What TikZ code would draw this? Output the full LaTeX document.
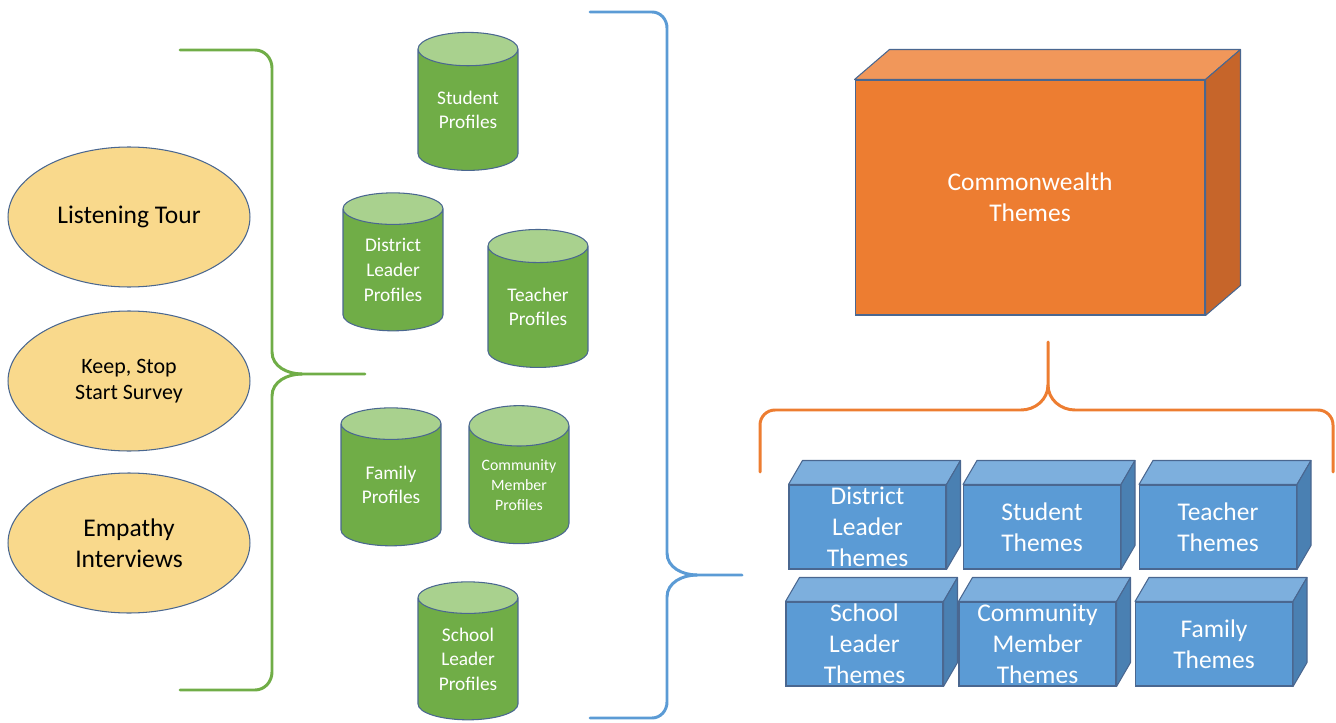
\documentclass[tikz,border=0pt]{standalone}
\usepackage{fontspec}
\setmainfont{Carlito}
\usetikzlibrary{shapes.geometric}

\definecolor{edgeblue}{HTML}{4A6790}
\definecolor{srcyellow}{HTML}{F9D98C}
\definecolor{profgreen}{HTML}{70AD47}
\definecolor{proftop}{HTML}{A9D18E}
\definecolor{themeblue}{HTML}{5B9BD5}
\definecolor{themetopblue}{HTML}{7DAFDD}
\definecolor{themesideblue}{HTML}{4A80B2}
\definecolor{cworange}{HTML}{ED7D31}
\definecolor{cwtop}{HTML}{F1975A}
\definecolor{cwside}{HTML}{C6652A}

\begin{document}
\begin{tikzpicture}[x=0.02cm, y=0.02cm,
  source/.style={ellipse, draw=edgeblue, line width=0.6pt, fill=srcyellow, minimum width=4.84cm,
                 minimum height=2.8cm, inner sep=0pt, align=center,
                 font=\fontsize{14.5}{17.6}\selectfont},
  profile/.style={cylinder, shape border rotate=90, aspect=0.54, draw=edgeblue, line width=0.6pt,
                  cylinder uses custom fill, cylinder body fill=profgreen, cylinder end fill=proftop,
                  minimum width=2cm, minimum height=2.76cm, inner sep=0pt, align=center, text=white,
                  font=\fontsize{11}{14}\selectfont},
  theme/.style={draw=edgeblue, line width=0.6pt, fill=themeblue, minimum width=3.14cm,
                minimum height=1.68cm, inner sep=0pt, align=center, text=white,
                font=\fontsize{14.5}{17.6}\selectfont},
  face/.style={draw=edgeblue, line width=0.6pt, line join=round},
  brace/.style={line width=1.7pt, line cap=round}
]
\useasboundingbox (0,0) rectangle (1336,-723);

% inputs
\node[source] (tour) at (129,-217) {Listening Tour};
\node[source, font=\fontsize{12.5}{14.7}\selectfont] (survey) at (129,-381) {Keep, Stop\\Start Survey};
\node[source] (empathy) at (129,-543) {Empathy\\Interviews};

\draw[brace, profgreen] (180,-50) -- (255,-50) to[out=0,in=90] (272,-68) -- (272,-352)
  to[out=-90,in=180] (302,-374) -- (365,-374);
\draw[brace, profgreen] (302,-374) to[out=180,in=90] (272,-396) -- (272,-672)
  to[out=-90,in=0] (255,-690) -- (180,-690);

% profiles
\node[profile] (stud) at (468,-110) {Student\\Profiles};
\node[profile] (dist) at (393,-270) {District\\Leader\\Profiles};
\node[profile] (teach) at (538,-307) {Teacher\\Profiles};
\node[profile] (fam) at (391,-485) {Family\\Profiles};
\node[profile, font=\fontsize{9}{11.5}\selectfont] (comm) at (519,-485) {Community\\Member\\Profiles};
\node[profile] (school) at (468,-659) {School\\Leader\\Profiles};

\draw[brace, themeblue] (590,-12) -- (652,-12) to[out=0,in=90] (667,-28) -- (667,-553)
  to[out=-90,in=180] (697,-575) -- (742,-575);
\draw[brace, themeblue] (697,-575) to[out=180,in=90] (667,-597) -- (667,-702)
  to[out=-90,in=0] (652,-718) -- (590,-718);

% commonwealth box
\node[theme, fill=cworange, minimum width=7cm, minimum height=4.7cm] (cw) at (1030,-197.5) {Commonwealth\\Themes};
\draw[face, fill=cwtop] (cw.north west) -- ++(35,30) -- ([shift={(35,30)}]cw.north east) -- (cw.north east) -- cycle;
\draw[face, fill=cwside] (cw.north east) -- ++(35,30) -- ([shift={(35,30)}]cw.south east) -- (cw.south east) -- cycle;

\draw[brace, cworange] (1048,-342) -- (1048,-385) to[out=-90,in=180] (1075,-410) -- (1318,-410)
  to[out=0,in=90] (1333,-425) -- (1333,-472);
\draw[brace, cworange] (1048,-385) to[out=-90,in=0] (1021,-410) -- (775,-410)
  to[out=180,in=90] (760,-425) -- (760,-472);

% group themes
\node[theme] (dlt) at (867.5,-527) {District\\Leader\\Themes};
\node[theme] (stt) at (1042,-527) {Student\\Themes};
\node[theme] (tct) at (1218,-527) {Teacher\\Themes};
\node[theme] (slt) at (864.5,-644) {School\\Leader\\Themes};
\node[theme] (cmt) at (1037.5,-644) {Community\\Member\\Themes};
\node[theme] (fmt) at (1214,-644) {Family\\Themes};
\foreach \b in {dlt,stt,tct,slt,cmt,fmt}{
  \draw[face, fill=themetopblue] (\b.north west) -- ++(14,24) -- ([shift={(14,24)}]\b.north east) -- (\b.north east) -- cycle;
  \draw[face, fill=themesideblue] (\b.north east) -- ++(14,24) -- ([shift={(14,24)}]\b.south east) -- (\b.south east) -- cycle;
}
\end{tikzpicture}
\end{document}
